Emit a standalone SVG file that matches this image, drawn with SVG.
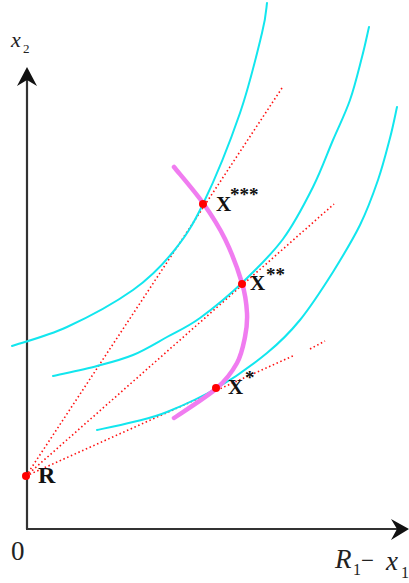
<svg xmlns="http://www.w3.org/2000/svg" width="409" height="583" viewBox="0 0 409 583">
<style>
.axis{stroke:#333;stroke-width:2.2;fill:none}
.head{fill:#111}
.ic{stroke:#12e6ee;stroke-width:2;fill:none;stroke-linejoin:round;stroke-linecap:round}
.ray{stroke:#ff1010;stroke-width:1.6;fill:none;stroke-dasharray:1.5 2.6}
.path{stroke:#f07cf0;stroke-width:4.5;fill:none;stroke-linejoin:round;stroke-linecap:round}
.pt{fill:#ff0000}
.lbl{font-family:"Liberation Serif","Times New Roman",serif;font-weight:bold;fill:#111}
.star{font-size:19px}
.ax{font-family:"Liberation Serif","Times New Roman",serif;fill:#222}
</style>
<rect width="409" height="583" fill="#fff"/>
<g id="axes">
<line class="axis" x1="27" y1="80" x2="27" y2="529"/>
<line class="axis" x1="26" y1="529" x2="398" y2="529"/>
<polygon class="head" points="27,67 37,86 27,80 17,86"/>
<polygon class="head" points="409,529 391,519 397,529 391,540"/>
<text class="ax" x="11" y="47" font-size="22" font-style="italic">x</text>
<text class="ax" x="23" y="53" font-size="13">2</text>
<text class="ax" x="11" y="560" font-size="27">0</text>
<text class="ax" x="335" y="568" font-size="27" font-style="italic">R</text>
<text class="ax" x="353" y="575" font-size="16">1</text>
<text class="ax" x="361" y="568" font-size="23">−</text>
<text class="ax" x="386" y="570" font-size="27" font-style="italic">x</text>
<text class="ax" x="401" y="578" font-size="16">1</text>
</g>
<g id="connectors">
<path class="ray" d="M26,476 L282,88"/>
<path class="ray" d="M26,476 L334,204"/>
<path class="ray" d="M26,476 L295,355 M310,349 L325,341"/>
</g>
<g id="curves">
<path id="ic1" class="ic" d="M12,346 C21.2,342.8 46.8,336.3 67,327 C87.2,317.7 115.3,302.5 133,290 C150.7,277.5 161.3,266.3 173,252 C184.7,237.7 191.8,227.2 203,204 C214.2,180.8 230.2,141.5 240,113 C249.8,84.5 257.5,51.3 262,33 C266.5,14.7 266.2,8 267,3"/>
<path id="ic2" class="ic" d="M53,376 C60.3,374.3 83.7,369.5 97,366 C110.3,362.5 121.3,359.8 133,355 C144.7,350.2 155.8,343.2 167,337 C178.2,330.8 187.3,327.2 200,318 C212.7,308.8 229.2,295.2 243,282 C256.8,268.8 271.3,254.8 283,239 C294.7,223.2 304.7,203.5 313,187 C321.3,170.5 326.8,154.5 333,140 C339.2,125.5 345.2,113.8 350,100 C354.8,86.2 358.8,69.2 362,57 C365.2,44.8 367.8,32 369,27"/>
<path id="ic3" class="ic" d="M97,430 C103,428.7 121.3,425 133,422 C144.7,419 153,417.7 167,412 C181,406.3 200.3,397.8 217,388 C233.7,378.2 253.2,364.3 267,353 C280.8,341.7 289,333.5 300,320 C311,306.5 323,287.8 333,272 C343,255.8 352.5,240.3 360,225 C367.5,209.7 373,194.5 378,180 C383,165.5 386.8,150.2 390,138 C393.2,125.8 395.8,112.2 397,107"/>
<path id="expansion" class="path" d="M174,167 C178.8,173 194.5,191 203,203 C211.5,215 218.5,225.7 225,239 C231.5,252.3 238.3,270.7 242,283 C245.7,295.3 246.5,304 247,313 C247.5,322 246.7,328.7 245,337 C243.3,345.3 241.7,354.5 237,363 C232.3,371.5 227.5,378.8 217,388 C206.5,397.2 181.2,413 174,418"/>
</g>
<g id="nodeR"><circle class="pt" cx="26" cy="476" r="4"/><text class="lbl" x="38" y="483" font-size="24">R</text></g>
<g id="nodeX1"><circle class="pt" cx="216" cy="388" r="4"/><text class="lbl" x="228" y="394" font-size="21">X</text><text class="lbl star" x="245" y="384">*</text></g>
<g id="nodeX2"><circle class="pt" cx="242" cy="284" r="4"/><text class="lbl" x="250" y="290" font-size="21">X</text><text class="lbl star" x="266" y="281">**</text></g>
<g id="nodeX3"><circle class="pt" cx="203" cy="204" r="4"/><text class="lbl" x="216" y="211" font-size="21">X</text><text class="lbl star" x="230" y="201">***</text></g>
</svg>
